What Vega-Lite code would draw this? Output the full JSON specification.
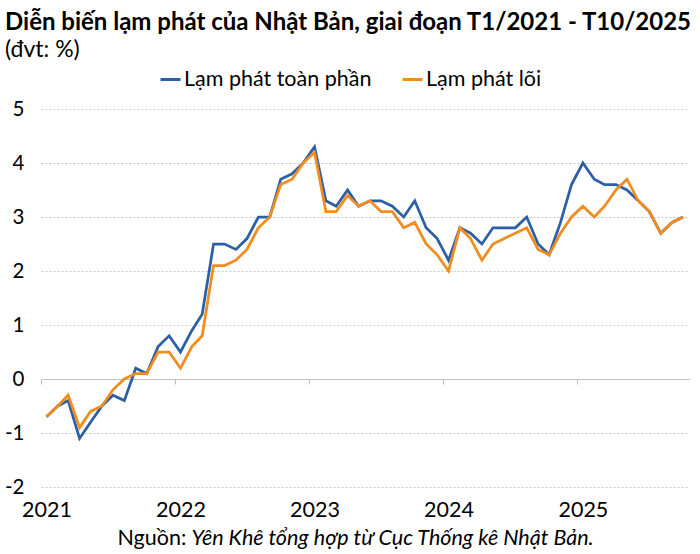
{
  "$schema": "https://vega.github.io/schema/vega-lite/v6.json",
  "autosize": "none",
  "padding": {"left": 41, "top": 109, "right": 11, "bottom": 67},
  "width": 648,
  "height": 378,
  "config": {
    "font": "Lato",
    "view": {"stroke": null}
  },
  "title": {
    "text": "Diễn biến lạm phát của Nhật Bản, giai đoạn T1/2021 - T10/2025",
    "subtitle": "(đvt: %)",
    "anchor": "start",
    "frame": "group",
    "dx": -36,
    "dy": 3,
    "font": "Lato",
    "fontSize": 24,
    "fontWeight": "bold",
    "color": "#000000",
    "subtitleFont": "Lato",
    "subtitleFontSize": 23,
    "subtitleColor": "#000000",
    "subtitlePadding": 4,
    "offset": 9
  },
  "data": {
    "values": [
      {"d": "2021-01-16", "s": "Lạm phát toàn phần", "v": -0.7},
      {"d": "2021-02-16", "s": "Lạm phát toàn phần", "v": -0.5},
      {"d": "2021-03-16", "s": "Lạm phát toàn phần", "v": -0.4},
      {"d": "2021-04-16", "s": "Lạm phát toàn phần", "v": -1.1},
      {"d": "2021-05-16", "s": "Lạm phát toàn phần", "v": -0.8},
      {"d": "2021-06-16", "s": "Lạm phát toàn phần", "v": -0.5},
      {"d": "2021-07-16", "s": "Lạm phát toàn phần", "v": -0.3},
      {"d": "2021-08-16", "s": "Lạm phát toàn phần", "v": -0.4},
      {"d": "2021-09-16", "s": "Lạm phát toàn phần", "v": 0.2},
      {"d": "2021-10-16", "s": "Lạm phát toàn phần", "v": 0.1},
      {"d": "2021-11-16", "s": "Lạm phát toàn phần", "v": 0.6},
      {"d": "2021-12-16", "s": "Lạm phát toàn phần", "v": 0.8},
      {"d": "2022-01-16", "s": "Lạm phát toàn phần", "v": 0.5},
      {"d": "2022-02-16", "s": "Lạm phát toàn phần", "v": 0.9},
      {"d": "2022-03-16", "s": "Lạm phát toàn phần", "v": 1.2},
      {"d": "2022-04-16", "s": "Lạm phát toàn phần", "v": 2.5},
      {"d": "2022-05-16", "s": "Lạm phát toàn phần", "v": 2.5},
      {"d": "2022-06-16", "s": "Lạm phát toàn phần", "v": 2.4},
      {"d": "2022-07-16", "s": "Lạm phát toàn phần", "v": 2.6},
      {"d": "2022-08-16", "s": "Lạm phát toàn phần", "v": 3.0},
      {"d": "2022-09-16", "s": "Lạm phát toàn phần", "v": 3.0},
      {"d": "2022-10-16", "s": "Lạm phát toàn phần", "v": 3.7},
      {"d": "2022-11-16", "s": "Lạm phát toàn phần", "v": 3.8},
      {"d": "2022-12-16", "s": "Lạm phát toàn phần", "v": 4.0},
      {"d": "2023-01-16", "s": "Lạm phát toàn phần", "v": 4.3},
      {"d": "2023-02-16", "s": "Lạm phát toàn phần", "v": 3.3},
      {"d": "2023-03-16", "s": "Lạm phát toàn phần", "v": 3.2},
      {"d": "2023-04-16", "s": "Lạm phát toàn phần", "v": 3.5},
      {"d": "2023-05-16", "s": "Lạm phát toàn phần", "v": 3.2},
      {"d": "2023-06-16", "s": "Lạm phát toàn phần", "v": 3.3},
      {"d": "2023-07-16", "s": "Lạm phát toàn phần", "v": 3.3},
      {"d": "2023-08-16", "s": "Lạm phát toàn phần", "v": 3.2},
      {"d": "2023-09-16", "s": "Lạm phát toàn phần", "v": 3.0},
      {"d": "2023-10-16", "s": "Lạm phát toàn phần", "v": 3.3},
      {"d": "2023-11-16", "s": "Lạm phát toàn phần", "v": 2.8},
      {"d": "2023-12-16", "s": "Lạm phát toàn phần", "v": 2.6},
      {"d": "2024-01-16", "s": "Lạm phát toàn phần", "v": 2.2},
      {"d": "2024-02-16", "s": "Lạm phát toàn phần", "v": 2.8},
      {"d": "2024-03-16", "s": "Lạm phát toàn phần", "v": 2.7},
      {"d": "2024-04-16", "s": "Lạm phát toàn phần", "v": 2.5},
      {"d": "2024-05-16", "s": "Lạm phát toàn phần", "v": 2.8},
      {"d": "2024-06-16", "s": "Lạm phát toàn phần", "v": 2.8},
      {"d": "2024-07-16", "s": "Lạm phát toàn phần", "v": 2.8},
      {"d": "2024-08-16", "s": "Lạm phát toàn phần", "v": 3.0},
      {"d": "2024-09-16", "s": "Lạm phát toàn phần", "v": 2.5},
      {"d": "2024-10-16", "s": "Lạm phát toàn phần", "v": 2.3},
      {"d": "2024-11-16", "s": "Lạm phát toàn phần", "v": 2.9},
      {"d": "2024-12-16", "s": "Lạm phát toàn phần", "v": 3.6},
      {"d": "2025-01-16", "s": "Lạm phát toàn phần", "v": 4.0},
      {"d": "2025-02-16", "s": "Lạm phát toàn phần", "v": 3.7},
      {"d": "2025-03-16", "s": "Lạm phát toàn phần", "v": 3.6},
      {"d": "2025-04-16", "s": "Lạm phát toàn phần", "v": 3.6},
      {"d": "2025-05-16", "s": "Lạm phát toàn phần", "v": 3.5},
      {"d": "2025-06-16", "s": "Lạm phát toàn phần", "v": 3.3},
      {"d": "2025-07-16", "s": "Lạm phát toàn phần", "v": 3.1},
      {"d": "2025-08-16", "s": "Lạm phát toàn phần", "v": 2.7},
      {"d": "2025-09-16", "s": "Lạm phát toàn phần", "v": 2.9},
      {"d": "2025-10-16", "s": "Lạm phát toàn phần", "v": 3.0},
      {"d": "2021-01-16", "s": "Lạm phát lõi", "v": -0.7},
      {"d": "2021-02-16", "s": "Lạm phát lõi", "v": -0.5},
      {"d": "2021-03-16", "s": "Lạm phát lõi", "v": -0.3},
      {"d": "2021-04-16", "s": "Lạm phát lõi", "v": -0.9},
      {"d": "2021-05-16", "s": "Lạm phát lõi", "v": -0.6},
      {"d": "2021-06-16", "s": "Lạm phát lõi", "v": -0.5},
      {"d": "2021-07-16", "s": "Lạm phát lõi", "v": -0.2},
      {"d": "2021-08-16", "s": "Lạm phát lõi", "v": 0.0},
      {"d": "2021-09-16", "s": "Lạm phát lõi", "v": 0.1},
      {"d": "2021-10-16", "s": "Lạm phát lõi", "v": 0.1},
      {"d": "2021-11-16", "s": "Lạm phát lõi", "v": 0.5},
      {"d": "2021-12-16", "s": "Lạm phát lõi", "v": 0.5},
      {"d": "2022-01-16", "s": "Lạm phát lõi", "v": 0.2},
      {"d": "2022-02-16", "s": "Lạm phát lõi", "v": 0.6},
      {"d": "2022-03-16", "s": "Lạm phát lõi", "v": 0.8},
      {"d": "2022-04-16", "s": "Lạm phát lõi", "v": 2.1},
      {"d": "2022-05-16", "s": "Lạm phát lõi", "v": 2.1},
      {"d": "2022-06-16", "s": "Lạm phát lõi", "v": 2.2},
      {"d": "2022-07-16", "s": "Lạm phát lõi", "v": 2.4},
      {"d": "2022-08-16", "s": "Lạm phát lõi", "v": 2.8},
      {"d": "2022-09-16", "s": "Lạm phát lõi", "v": 3.0},
      {"d": "2022-10-16", "s": "Lạm phát lõi", "v": 3.6},
      {"d": "2022-11-16", "s": "Lạm phát lõi", "v": 3.7},
      {"d": "2022-12-16", "s": "Lạm phát lõi", "v": 4.0},
      {"d": "2023-01-16", "s": "Lạm phát lõi", "v": 4.2},
      {"d": "2023-02-16", "s": "Lạm phát lõi", "v": 3.1},
      {"d": "2023-03-16", "s": "Lạm phát lõi", "v": 3.1},
      {"d": "2023-04-16", "s": "Lạm phát lõi", "v": 3.4},
      {"d": "2023-05-16", "s": "Lạm phát lõi", "v": 3.2},
      {"d": "2023-06-16", "s": "Lạm phát lõi", "v": 3.3},
      {"d": "2023-07-16", "s": "Lạm phát lõi", "v": 3.1},
      {"d": "2023-08-16", "s": "Lạm phát lõi", "v": 3.1},
      {"d": "2023-09-16", "s": "Lạm phát lõi", "v": 2.8},
      {"d": "2023-10-16", "s": "Lạm phát lõi", "v": 2.9},
      {"d": "2023-11-16", "s": "Lạm phát lõi", "v": 2.5},
      {"d": "2023-12-16", "s": "Lạm phát lõi", "v": 2.3},
      {"d": "2024-01-16", "s": "Lạm phát lõi", "v": 2.0},
      {"d": "2024-02-16", "s": "Lạm phát lõi", "v": 2.8},
      {"d": "2024-03-16", "s": "Lạm phát lõi", "v": 2.6},
      {"d": "2024-04-16", "s": "Lạm phát lõi", "v": 2.2},
      {"d": "2024-05-16", "s": "Lạm phát lõi", "v": 2.5},
      {"d": "2024-06-16", "s": "Lạm phát lõi", "v": 2.6},
      {"d": "2024-07-16", "s": "Lạm phát lõi", "v": 2.7},
      {"d": "2024-08-16", "s": "Lạm phát lõi", "v": 2.8},
      {"d": "2024-09-16", "s": "Lạm phát lõi", "v": 2.4},
      {"d": "2024-10-16", "s": "Lạm phát lõi", "v": 2.3},
      {"d": "2024-11-16", "s": "Lạm phát lõi", "v": 2.7},
      {"d": "2024-12-16", "s": "Lạm phát lõi", "v": 3.0},
      {"d": "2025-01-16", "s": "Lạm phát lõi", "v": 3.2},
      {"d": "2025-02-16", "s": "Lạm phát lõi", "v": 3.0},
      {"d": "2025-03-16", "s": "Lạm phát lõi", "v": 3.2},
      {"d": "2025-04-16", "s": "Lạm phát lõi", "v": 3.5},
      {"d": "2025-05-16", "s": "Lạm phát lõi", "v": 3.7},
      {"d": "2025-06-16", "s": "Lạm phát lõi", "v": 3.3},
      {"d": "2025-07-16", "s": "Lạm phát lõi", "v": 3.1},
      {"d": "2025-08-16", "s": "Lạm phát lõi", "v": 2.7},
      {"d": "2025-09-16", "s": "Lạm phát lõi", "v": 2.9},
      {"d": "2025-10-16", "s": "Lạm phát lõi", "v": 3.0}
    ]
  },
  "layer": [
    {
      "transform": [{"filter": "datum.s === 'Lạm phát toàn phần'"}],
      "mark": {"type": "line", "strokeWidth": 2.75, "strokeJoin": "miter"},
      "encoding": {
        "x": {
          "field": "d", "type": "temporal",
          "scale": {"type": "utc", "domain": [{"year": 2021, "month": 1, "date": 1, "utc": true}, {"year": 2025, "month": 11, "date": 1, "utc": true}]},
          "axis": {
            "orient": "bottom",
            "values": [
              {"year": 2021, "month": 1, "date": 16, "utc": true},
              {"year": 2022, "month": 1, "date": 16, "utc": true},
              {"year": 2023, "month": 1, "date": 16, "utc": true},
              {"year": 2024, "month": 1, "date": 16, "utc": true},
              {"year": 2025, "month": 1, "date": 16, "utc": true}
            ],
            "format": "%Y",
            "domain": false,
            "ticks": false,
            "grid": false,
            "labelFlush": false,
            "labelFontSize": 21.5,
            "labelColor": "#000000",
            "labelPadding": 12,
            "title": "Nguồn:",
            "titleFontSize": 21.5,
            "titleFontWeight": "normal",
            "titleColor": "#000000",
            "titleAnchor": "start",
            "titleAlign": "left",
            "titleBaseline": "middle",
            "titleX": 76,
            "titleY": 51
          }
        },
        "y": {
          "field": "v", "type": "quantitative",
          "scale": {"domain": [-2, 5]},
          "axis": {
            "values": [-2, -1, 0, 1, 2, 3, 4, 5],
            "labelExpr": "toString(datum.value)",
            "domain": false,
            "ticks": false,
            "labelFontSize": 20.5,
            "labelColor": "#000000",
            "labelPadding": 17,
            "gridColor": "#c8c8c8",
            "gridDash": [2, 2],
            "gridWidth": 1,
            "title": null
          }
        },
        "color": {
          "field": "s", "type": "nominal",
          "scale": {"domain": ["Lạm phát toàn phần", "Lạm phát lõi"], "range": ["#2B5FA6", "#F28C1E"]},
          "legend": {
            "orient": "none",
            "legendX": 118,
            "legendY": -41,
            "direction": "horizontal",
            "title": null,
            "symbolType": "stroke",
            "symbolStrokeWidth": 3,
            "symbolSize": 400,
            "labelFontSize": 21.5,
            "labelLimit": 400,
            "labelColor": "#000000",
            "labelOffset": 2,
            "columnPadding": 24
          }
        }
      }
    },
    {
      "transform": [{"filter": "datum.s === 'Lạm phát lõi'"}],
      "mark": {"type": "line", "strokeWidth": 2.75, "strokeJoin": "miter"},
      "encoding": {
        "x": {
          "field": "d", "type": "temporal",
          "scale": {"type": "utc", "domain": [{"year": 2021, "month": 1, "date": 1, "utc": true}, {"year": 2025, "month": 11, "date": 1, "utc": true}]},
          "axis": {
            "orient": "bottom",
            "offset": -108,
            "values": [
              {"year": 2021, "month": 1, "date": 1, "utc": true},
              {"year": 2022, "month": 1, "date": 1, "utc": true},
              {"year": 2023, "month": 1, "date": 1, "utc": true},
              {"year": 2024, "month": 1, "date": 1, "utc": true},
              {"year": 2025, "month": 1, "date": 1, "utc": true}
            ],
            "labels": false,
            "grid": false,
            "domain": true,
            "domainColor": "#bfbfbf",
            "domainWidth": 1.2,
            "ticks": true,
            "tickColor": "#bfbfbf",
            "tickSize": 5,
            "tickWidth": 1.2,
            "title": "Yên Khê tổng hợp từ Cục Thống kê Nhật Bản.",
            "titleFontSize": 21.5,
            "titleFontWeight": "normal",
            "titleFontStyle": "italic",
            "titleColor": "#000000",
            "titleAnchor": "start",
            "titleAlign": "left",
            "titleBaseline": "middle",
            "titleX": 150,
            "titleY": 159
          }
        },
        "y": {"field": "v", "type": "quantitative", "scale": {"domain": [-2, 5]}},
        "color": {"field": "s", "type": "nominal", "scale": {"domain": ["Lạm phát toàn phần", "Lạm phát lõi"], "range": ["#2B5FA6", "#F28C1E"]}}
      }
    }
  ],
  "resolve": {"axis": {"x": "independent"}}
}
